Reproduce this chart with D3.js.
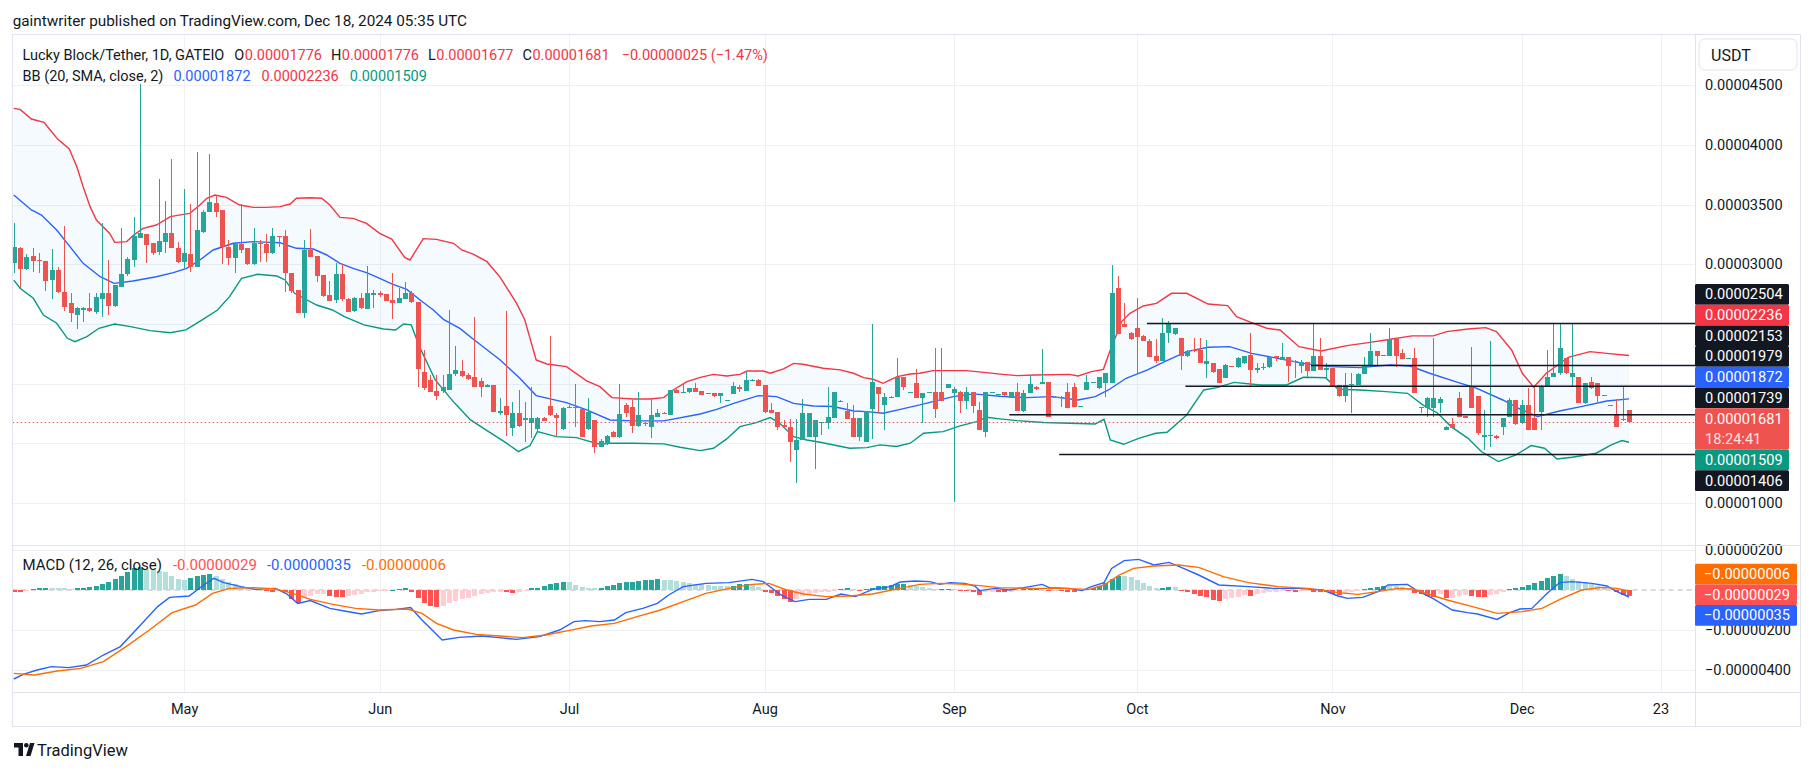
<!DOCTYPE html>
<html><head><meta charset="utf-8">
<script src="https://cdn.jsdelivr.net/npm/d3@7"></script>
<style>
html,body{margin:0;padding:0;background:#fff;}
svg{display:block;font-family:Roboto,"Liberation Sans",sans-serif;}
</style></head><body>
<svg id="c" width="1814" height="771"></svg>
<script>
// ---------------- DATA (prices in units of 1e-8 USDT, bar index 0 = Apr 4 2024, daily) ----------------
const O = [
3008,3134,2958,3069,3036,3027,2866,2952,2768,2673,2575,2627,2634,2603,2712,2757,2653,2813,2919,3036,
3223,3254,3176,3106,3190,3259,3134,3022,3086,2980,3273,3438,3511,3455,3142,3055,3170,3139,2999,3178,
3173,3092,3240,3237,2930,2785,2595,3120,3069,2910,2743,2701,2919,2709,2609,2715,2625,2754,2757,2751,
2701,2673,2712,2757,2681,2095,2031,1942,1942,1947,2078,2109,2073,2059,2023,1975,1989,1763,1813,1632,
1757,1696,1674,1618,1710,1813,1738,1618,1807,1807,1791,1618,1696,1473,1495,1598,1551,1819,1802,1648,
1668,1640,1724,1757,1740,1947,1928,1928,1967,1939,1917,1919,1897,1858,1914,1975,1942,2031,2031,1992,
1780,1763,1654,1640,1445,1528,1556,1556,1676,1674,1715,1855,1771,1710,1556,1514,1788,1972,1821,1889,
1886,2059,1925,2003,1883,1925,1928,1928,1967,1925,1933,1858,1931,1780,1598,1925,1908,1928,1883,1928,
1771,1919,1975,2009,2011,1889,1889,1928,1975,1811,1947,2009,1967,2009,2009,2804,2500,2422,2464,2400,
2360,2232,2190,2422,2416,2380,2232,2284,2282,2162,2170,2120,2050,2150,2137,2170,2238,2124,2135,2143,
2228,2198,2226,2188,2151,2182,2109,2232,2124,2134,1989,1900,1995,1989,2078,2157,2274,2236,2232,2372,
2260,2210,2212,1804,1794,1794,1835,1612,1662,1883,1726,1975,1900,1564,1568,1565,1640,1724,1863,1668,
1822,1710,1766,1970,2053,2087,2212,2053,2059,1835,2011,2003,1902,1820,1746,1700,1776];
const H = [
3343,3148,3086,3134,3092,3030,3128,2974,3324,2757,2645,2645,2757,2757,3343,3036,2827,3307,3064,3399,
4510,3254,3181,3714,3530,3882,3190,3631,3505,3943,3455,3924,3580,3455,3203,3190,3502,3139,3304,3203,
3251,3304,3240,3287,2930,2785,3203,3296,3069,2910,2860,3008,3000,2715,2729,2757,2986,2785,2779,2751,
2930,2799,2855,2776,2681,2282,2073,2073,2073,2617,2316,2198,2087,2561,2045,1994,1989,1877,2609,1850,
1947,1850,1975,1724,1724,2399,1757,1807,1821,1995,1791,1877,1696,1534,1570,1605,1995,1835,1863,1928,
1682,1883,1785,1760,1947,1953,2003,1967,2003,1939,1925,1925,1925,1863,2011,1989,2106,2037,2039,1992,
1835,1763,1696,1702,1702,1869,1752,1696,1682,1975,1933,1863,1835,1822,1710,1768,2500,1972,1919,1894,
2218,2059,1931,2120,1925,1931,2296,2296,1995,1975,1939,1970,1931,1850,1928,1933,1915,1930,1933,2003,
1947,2070,1978,2291,2011,1894,1894,2003,2003,1816,2073,2015,2053,2092,2994,2902,2673,2430,2715,2405,
2372,2372,2547,2528,2470,2380,2280,2380,2380,2366,2170,2120,2162,2152,2226,2235,2427,2170,2176,2232,
2232,2338,2226,2198,2198,2182,2506,2380,2170,2134,1989,2087,2087,2087,2221,2422,2274,2242,2464,2380,
2291,2216,2296,1808,1891,2380,1891,1645,1710,1933,1730,2310,1900,1780,2360,1568,1716,1877,1863,1863,
1967,1975,1989,2282,2506,2506,2212,2506,2059,2003,2059,2003,1908,1822,1869,1970,1776];
const L = [
2930,2799,2952,2938,2930,2779,2712,2762,2612,2519,2455,2519,2603,2581,2561,2575,2645,2813,2905,2974,
3217,3014,3078,3078,3092,3134,3014,2966,2933,2974,3265,3438,3399,3002,2994,2930,3092,2994,2994,3022,
3022,3086,3148,2771,2762,2595,2553,3064,2855,2723,2695,2679,2695,2603,2603,2625,2623,2631,2729,2695,
2542,2673,2709,2679,1975,1947,1933,1863,1919,1947,2064,2059,2031,1975,1891,1969,1760,1738,1565,1565,
1640,1509,1542,1598,1688,1729,1562,1612,1793,1640,1551,1612,1417,1467,1490,1551,1542,1724,1584,1640,
1646,1548,1724,1746,1740,1919,1919,1919,1933,1905,1910,1891,1841,1855,1914,1933,1942,2028,1981,1757,
1752,1612,1626,1347,1171,1528,1551,1286,1570,1618,1715,1852,1704,1556,1523,1514,1534,1752,1612,1886,
1886,1947,1922,1883,1668,1922,1715,1858,1967,1012,1752,1785,1752,1612,1551,1920,1905,1900,1877,1771,
1766,1919,1950,2003,1724,1886,1808,1799,1808,1808,1947,2005,1953,1891,2009,2416,2478,2366,2087,2355,
2226,2170,2190,2338,2410,2115,2226,2268,2176,2045,2092,2003,2045,2144,2129,2168,1970,2092,2115,2134,
2190,2198,2017,2050,2092,2053,2109,2115,2045,1970,1891,1849,1757,1989,2078,2151,2157,2234,2232,2137,
2210,2208,1919,1752,1718,1724,1752,1608,1632,1724,1718,1794,1570,1445,1473,1540,1570,1724,1654,1660,
1612,1612,1612,1970,2053,2073,2081,1981,1835,1830,1953,1849,1900,1814,1634,1690,1677];
const C = [
3148,2958,3058,3030,3033,2863,2952,2765,2645,2589,2631,2631,2612,2723,2757,2653,2827,2919,3044,3237,
3259,3164,3092,3192,3259,3134,3022,3092,2980,3284,3438,3522,3441,3142,3055,3170,3120,3002,3178,3173,
3092,3237,3234,2924,2779,2595,3120,3064,2905,2737,2695,2919,2709,2603,2715,2631,2757,2757,2752,2695,
2673,2715,2757,2681,2120,1967,1933,1900,1975,2078,2115,2064,2042,1975,1969,1989,1766,1768,1738,1757,
1646,1715,1710,1710,1688,1738,1715,1793,1802,1793,1556,1766,1473,1520,1562,1556,1743,1757,1648,1738,
1660,1738,1757,1752,1947,1919,1931,1961,1933,1908,1920,1897,1925,1861,1981,1958,2031,2034,1983,1766,
1757,1640,1640,1514,1528,1752,1752,1696,1679,1724,1933,1858,1704,1556,1710,1768,2011,1914,1889,1891,
2059,1970,1928,1883,1925,1928,1785,1858,1995,1953,1858,1931,1813,1612,1928,1928,1911,1905,1928,1771,
1919,1995,1953,2011,1724,1891,1892,1799,1808,1814,2011,2012,2053,2087,2757,2416,2478,2372,2394,2360,
2226,2190,2422,2506,2467,2232,2274,2280,2176,2190,2098,2003,2154,2146,2212,2232,2115,2127,2138,2226,
2224,2226,2151,2185,2179,2109,2232,2115,2127,1981,1900,1989,1998,2081,2157,2274,2232,2239,2372,2232,
2210,2213,1919,1800,1883,1883,1869,1640,1632,1724,1722,1794,1584,1567,1571,1542,1710,1863,1662,1822,
1612,1612,1975,2059,2087,2302,2087,2090,1835,2003,1961,1897,1905,1816,1634,1706,1681];

// Bollinger bands (20, SMA, 2): [bar index, value]
const bbUpper = [[0,4306],[1,4298],[2.8,4217],[4.8,4189],[6,4111],[7,4047],[8.8,3966],[10,3818],[11,3650],[12.1,3483],[13.1,3371],[15.2,3259],[16,3184],[17.9,3190],[19,3245],[20.5,3301],[22.6,3329],[24.8,3399],[26.9,3418],[27.9,3427],[29.5,3497],[30.6,3553],[31.9,3580],[33.7,3561],[35.8,3497],[38,3477],[40.1,3477],[42.2,3483],[43.8,3505],[44.8,3553],[46.9,3558],[48.8,3553],[50.1,3497],[51.7,3393],[53.8,3385],[55.9,3343],[58,3259],[59.9,3212],[62,3055],[62.8,3036],[64.9,3215],[67,3209],[69.7,3176],[71,3120],[72.8,3086],[75,3022],[77.1,2891],[79.7,2673],[81,2533],[82.8,2198],[84.5,2165],[87.6,2143],[90.8,2023],[92.9,1975],[94.8,1883],[98.2,1872],[100.8,1872],[103,1883],[104.5,1947],[106.7,2017],[108.8,2053],[110.9,2078],[113,2064],[115.1,2078],[116.2,2106],[118.8,2106],[119.9,2087],[122,2123],[123.6,2170],[125.1,2162],[128.3,2129],[131,2115],[133.1,2087],[134.7,2050],[136.2,2037],[137.8,2003],[138.9,2031],[140,2059],[142.1,2081],[143.6,2087],[145.7,2109],[148.9,2109],[151,2109],[154.2,2092],[156.3,2080],[159,2067],[161.8,2073],[167.3,2078],[168.7,2064],[170.8,2101],[172.7,2120],[173.8,2282],[175.6,2520],[176.9,2589],[179,2651],[181.1,2673],[183.5,2757],[185.9,2757],[189.3,2667],[192.4,2654],[193.8,2561],[196.2,2511],[198.6,2464],[200.7,2450],[203.7,2310],[207.2,2274],[211.3,2319],[214.7,2344],[218.2,2372],[221.6,2400],[225,2400],[227.1,2436],[230.5,2458],[233.3,2469],[235,2436],[237.4,2282],[239.1,2087],[240.9,1970],[242.9,2087],[246.4,2221],[249.8,2268],[252.5,2254],[256,2236]];
const bbBasis = [[0,3580],[2.8,3455],[4.4,3413],[6.8,3287],[8.9,3148],[11,3008],[13.7,2896],[15.9,2840],[18.9,2860],[22.6,2896],[25.3,2930],[27.4,2966],[29.5,3036],[31.6,3120],[34.8,3176],[38,3190],[40.6,3184],[42.2,3181],[43.2,3162],[44.8,3134],[47.5,3128],[49.6,3078],[51.7,3008],[53.8,2966],[55.9,2930],[58,2882],[60.1,2832],[62.3,2790],[64.4,2701],[66.5,2617],[68.1,2539],[70.7,2463],[73,2366],[77.1,2198],[80.2,2045],[82.8,1900],[87.6,1841],[90.8,1780],[94.5,1696],[98.2,1688],[103,1688],[108.8,1746],[111.4,1785],[114.1,1835],[118,1900],[120.9,1891],[123.6,1835],[126.7,1813],[129.9,1808],[133.1,1771],[135.2,1766],[137.8,1752],[140.5,1785],[143.6,1822],[146.3,1858],[148.9,1891],[152.1,1914],[156.3,1895],[160.4,1883],[164.6,1891],[168.7,1863],[171.4,1891],[173.5,1947],[176.3,2045],[179.7,2115],[182.4,2185],[185.9,2268],[189.3,2305],[192.7,2310],[196.2,2254],[200.3,2212],[204.4,2170],[208.6,2143],[213.4,2134],[218.2,2157],[221.3,2148],[224.4,2087],[228.5,2017],[231.9,1961],[236,1863],[238.8,1785],[241.5,1724],[245,1771],[248.4,1808],[252.5,1855],[256,1872]];
const bbLower = [[0,2868],[1,2799],[3.1,2715],[4.7,2575],[6.8,2506],[8.5,2380],[9.7,2352],[11.6,2394],[13.5,2464],[16,2500],[18.5,2478],[21.6,2444],[24.8,2427],[27.3,2450],[29.8,2533],[32.3,2617],[34.2,2729],[36.1,2882],[38.6,2916],[41.7,2902],[43,2869],[44.5,2757],[48,2659],[50.5,2617],[52.4,2561],[55.5,2492],[58.6,2458],[60.5,2450],[61.8,2500],[63,2492],[64.3,2310],[66.8,2031],[69.9,1835],[72.4,1696],[75.5,1590],[78.1,1501],[80,1431],[81.8,1480],[83,1598],[86,1556],[89.2,1548],[90.8,1523],[92.9,1492],[94.5,1501],[98.2,1501],[103,1495],[105.6,1467],[108.8,1439],[110.9,1459],[113,1537],[115.1,1640],[117.7,1674],[119.9,1716],[121.4,1668],[123.6,1556],[125.7,1528],[127.8,1509],[132.5,1459],[135.2,1464],[137.3,1487],[139.9,1473],[142.1,1501],[144.2,1584],[147.3,1598],[150,1646],[152.6,1682],[154.2,1718],[156.3,1705],[159,1690],[163.2,1674],[167.3,1668],[171.4,1662],[172.8,1701],[173.8,1528],[175.9,1492],[178.3,1542],[181,1584],[182.8,1593],[185.9,1738],[188.6,1947],[190.7,1967],[193.4,2011],[197.6,1989],[201.7,1989],[204.4,2053],[207.9,2050],[209.9,1953],[213.4,1947],[217.5,1933],[220.9,1919],[223.3,1822],[225.7,1752],[227.8,1640],[230.5,1542],[232.6,1431],[235.3,1347],[238.1,1403],[240.5,1481],[242.6,1459],[244.6,1369],[247,1383],[250.8,1417],[253.2,1487],[254.9,1523],[256,1509]];

// MACD (12, 26, close): [bar index, value]
const macdLine = [[0,-445],[1.5,-422],[3.7,-400],[6,-383],[8.7,-388],[11.5,-375],[14.2,-325],[16.9,-283],[20.1,-175],[22.8,-83],[24.7,-37],[27.8,-30],[30.1,25],[31.7,58],[33.3,37],[36,17],[38.3,3],[41.5,8],[43.3,-20],[45,-67],[47,-53],[50.1,-92],[52.4,-105],[55.1,-120],[57.9,-103],[60.6,-97],[62.9,-88],[64.7,-150],[67.9,-250],[70.6,-237],[74.2,-230],[76.9,-238],[79.7,-247],[83.3,-233],[86.5,-200],[88.8,-158],[90.6,-153],[92.9,-158],[95.2,-150],[97,-113],[99.7,-92],[102,-67],[103.8,-25],[106.1,17],[109.7,33],[113.4,37],[117,53],[118.8,42],[121.6,-25],[123.8,-58],[126.1,-47],[128.8,-47],[131.1,-20],[133.4,-33],[136.1,3],[138.9,17],[140.5,40],[142.8,45],[145.2,42],[146.8,28],[148.4,37],[150.7,33],[152.3,20],[153.1,-3],[155.5,8],[157.8,0],[161,17],[163,28],[164.1,12],[167.3,8],[169.3,-3],[170.8,17],[172.8,37],[174,108],[176,147],[178.3,153],[180.7,125],[183.1,138],[185.4,108],[187.8,75],[191,25],[195.7,17],[199.6,8],[203.6,8],[207.5,0],[209.9,-30],[211.4,-42],[213.8,-37],[216.2,-8],[217.8,25],[220.9,28],[222.5,-5],[224.9,-42],[228,-100],[230.4,-113],[232,-120],[235.1,-147],[237.1,-113],[238.7,-95],[240.6,-92],[243,-17],[245,37],[247,42],[250.1,33],[252.5,20],[254.1,-8],[256,-35]];
const macdSignal = [[0,-417],[3.3,-425],[6.9,-405],[10.6,-392],[14.2,-358],[17.8,-283],[21.5,-200],[25.1,-113],[28.8,-75],[31.5,-17],[34.2,8],[37.9,12],[41.5,5],[44.2,-17],[47,-47],[50.6,-72],[54.2,-92],[57.9,-100],[62.4,-95],[64.7,-117],[67,-167],[69.7,-200],[73.3,-222],[77,-230],[80.6,-238],[84.3,-225],[87.9,-203],[91.5,-180],[95.2,-167],[98.8,-133],[102.5,-100],[106.1,-58],[109.7,-17],[113.4,8],[117,28],[119.7,33],[122.5,0],[125.2,-20],[128.8,-33],[132.5,-30],[136.1,-20],[140.5,8],[143.6,28],[146.8,33],[150,30],[153.1,22],[156.2,12],[161,8],[165.7,8],[170.4,3],[172.8,25],[175.2,75],[177.5,108],[180.7,120],[184.6,125],[187.8,113],[191.7,67],[195.7,37],[200.4,17],[205.1,8],[209.9,-13],[213,-22],[216.2,-8],[219.3,8],[221.7,5],[224.1,-20],[227.2,-50],[231.2,-83],[235.1,-117],[239.1,-108],[242.2,-92],[245.4,-42],[248.5,0],[251.7,13],[254.1,8],[256,-6]];
const macdHist = [
-10,-12,-6,5,8,12,10,9,8,7,8,10,16,22,30,40,55,70,90,108,
115,105,100,95,88,70,55,50,60,68,75,78,70,55,40,28,18,12,6,2,
-4,-8,-6,-12,-45,-65,-40,-30,-22,-20,-28,-35,-37,-30,-25,-18,-12,-8,-5,-2,
2,6,8,-10,-40,-65,-80,-85,-78,-65,-55,-45,-38,-30,-22,-15,-12,-10,-12,-14,
-10,-5,8,12,18,28,35,42,40,25,15,12,10,12,20,25,35,40,42,45,
48,52,55,52,48,45,40,35,32,28,24,22,20,18,22,28,32,25,15,-8,
-15,-28,-45,-58,-45,-30,-22,-15,-12,-8,-5,6,8,4,-3,5,12,18,22,25,
28,30,25,20,15,8,3,4,6,5,-3,-5,-8,-25,-12,-8,-8,-10,-8,-3,
4,8,12,10,-3,-2,-4,-8,-10,-6,3,8,18,35,55,72,72,65,50,35,
18,10,12,17,13,-3,-10,-20,-28,-35,-50,-53,-47,-38,-33,-25,-28,-20,-15,-10,
-8,-5,-6,-8,-5,-3,-8,-10,-12,-20,-25,-15,-8,-5,3,10,17,22,22,20,
17,10,-15,-20,-30,-33,-20,-42,-40,-32,-25,-30,-37,-37,-25,-18,-12,5,10,17,
23,33,45,60,72,80,68,55,45,38,30,22,12,3,-10,-25,-29];

// Horizontal levels drawn on the chart (value, bar index where the ray starts)
const levelValues = [2504, 2153, 1979, 1739, 1406];
const levelStart  = [179.6, 205.6, 185.7, 157.8, 165.7];

// Time axis ticks
const tickLabels = ["May","Jun","Jul","Aug","Sep","Oct","Nov","Dec","23"];
const tickIndex  = [27, 58, 88, 119, 149, 178, 209, 239, 261];

// Price axis: grid values and the labels left visible (others sit under the price badges)
const priceGrid   = [1000,1500,2000,2500,3000,3500,4000,4500];
const priceLabels = [1000,3000,3500,4000,4500];
const macdGrid    = [200, -200, -400];
const macdLabels  = [200, -200, -400];

// Legend values
const lastBB = [1872, 2236, 1509];
const lastMacd = [-29, -35, -6];  // histogram, macd, signal
const countdown = "18:24:41";

// ---------------- LAYOUT ----------------
const svg = d3.select("#c");
const Lx = 12.7, Rx = 1695, FRx = 1800;
const mainTop = 34, mainBot = 545, macdBot = 692, axisBot = 726;
const TXT = "#131722", GRID = "#eef0f4", BORDER = "#e0e3eb";
const UP = "#26a69a", DN = "#ef5350";
const u = v => v * 1e-8;
const fmt = v => (v < 0 ? "\u2212" : "") + Math.abs(u(v)).toFixed(8);

const x = d3.scaleLinear().domain([58, 239]).range([379.7, 1521.7]);
const y = d3.scaleLinear().domain([1000, 3000]).range([503.0, 264.3]);
const ym = d3.scaleLinear().domain([-400, 200]).range([670, 550]);

svg.append("rect").attr("width",1814).attr("height",771).attr("fill","#fff");

const defs = svg.append("defs");
defs.append("clipPath").attr("id","cpMain").append("rect").attr("x",Lx).attr("y",mainTop).attr("width",Rx-Lx).attr("height",mainBot-mainTop);
defs.append("clipPath").attr("id","cpMacd").append("rect").attr("x",Lx).attr("y",mainBot).attr("width",Rx-Lx).attr("height",macdBot-mainBot);

// grid
const grid = svg.append("g");
priceGrid.forEach(v => grid.append("line").attr("x1",Lx).attr("x2",Rx).attr("y1",Math.round(y(v))+0.5).attr("y2",Math.round(y(v))+0.5).attr("stroke",GRID));
macdGrid.forEach(v => grid.append("line").attr("x1",Lx).attr("x2",Rx).attr("y1",Math.round(ym(v))+0.5).attr("y2",Math.round(ym(v))+0.5).attr("stroke",GRID));
tickIndex.forEach(i => grid.append("line").attr("x1",Math.round(x(i))+0.5).attr("x2",Math.round(x(i))+0.5).attr("y1",mainTop).attr("y2",macdBot).attr("stroke",GRID));

// ---------------- MAIN PANE ----------------
const main = svg.append("g").attr("clip-path","url(#cpMain)");
const pt = d => [x(d[0]), y(d[1])];
const line = d3.line();
main.append("path").attr("d", line(bbUpper.map(pt).concat(bbLower.slice().reverse().map(pt))) + "Z")
  .attr("fill","rgba(33,150,243,0.05)");
main.append("path").attr("d", line(bbUpper.map(pt))).attr("fill","none").attr("stroke","#f23645").attr("stroke-width",1.4);
main.append("path").attr("d", line(bbBasis.map(pt))).attr("fill","none").attr("stroke","#2962ff").attr("stroke-width",1.4);
main.append("path").attr("d", line(bbLower.map(pt))).attr("fill","none").attr("stroke","#089981").attr("stroke-width",1.4);

const candles = main.append("g").attr("shape-rendering","crispEdges");
d3.range(O.length).forEach(i => {
  const xc = Math.round(x(i));
  const col = C[i] >= O[i] ? UP : DN;
  const yh = y(H[i]), yl = y(L[i]);
  candles.append("rect").attr("x",xc).attr("y",yh).attr("width",1).attr("height",Math.max(1,yl-yh)).attr("fill",col);
  const yt = y(Math.max(O[i],C[i])), yb = y(Math.min(O[i],C[i]));
  candles.append("rect").attr("x",xc-2).attr("y",yt).attr("width",5).attr("height",Math.max(1.2,yb-yt)).attr("fill",col);
});

// level rays
levelValues.forEach((v,k) => {
  main.append("line").attr("x1",x(levelStart[k])).attr("x2",Rx).attr("y1",y(v)).attr("y2",y(v))
    .attr("stroke","#131722").attr("stroke-width",1.5);
});
// last price dotted line
const lastC = C[C.length-1];
main.append("line").attr("x1",Lx).attr("x2",Rx).attr("y1",Math.round(y(lastC))+0.5).attr("y2",Math.round(y(lastC))+0.5)
  .attr("stroke",DN).attr("stroke-width",1).attr("stroke-dasharray","1.5,2.5");

// ---------------- MACD PANE ----------------
const mp = svg.append("g").attr("clip-path","url(#cpMacd)");
mp.append("line").attr("x1",Lx).attr("x2",Rx).attr("y1",ym(0)).attr("y2",ym(0)).attr("stroke","#b2b5be").attr("stroke-dasharray","5,4");
const hg = mp.append("g").attr("shape-rendering","crispEdges");
macdHist.forEach((v,i) => {
  const prev = i > 0 ? macdHist[i-1] : v;
  let col;
  if (v >= 0) col = prev < v ? "#26a69a" : "#b2dfdb";
  else col = prev < v ? "#ffcdd2" : "#ff5252";
  const xc = Math.round(x(i));
  const y0 = ym(0), y1 = ym(v);
  hg.append("rect").attr("x",xc-2).attr("y",Math.min(y0,y1)).attr("width",5).attr("height",Math.max(1,Math.abs(y1-y0))).attr("fill",col);
});
const ptm = d => [x(d[0]), ym(d[1])];
mp.append("path").attr("d", line(macdLine.map(ptm))).attr("fill","none").attr("stroke","#2962ff").attr("stroke-width",1.4);
mp.append("path").attr("d", line(macdSignal.map(ptm))).attr("fill","none").attr("stroke","#ff6d00").attr("stroke-width",1.4);

// ---------------- AXES ----------------
const AXF = 14.6;
const pa = svg.append("g").attr("transform",`translate(${Rx},0)`)
  .call(d3.axisRight(y).tickValues(priceLabels).tickFormat(fmt).tickSize(0).tickPadding(10));
pa.select(".domain").remove();
pa.selectAll("text").attr("font-size",AXF).attr("font-family","Roboto").attr("fill",TXT);

const ma = svg.append("g").attr("transform",`translate(${Rx},0)`)
  .call(d3.axisRight(ym).tickValues(macdLabels).tickFormat(fmt).tickSize(0).tickPadding(10));
ma.select(".domain").remove();
ma.selectAll("text").attr("font-size",AXF).attr("font-family","Roboto").attr("fill",TXT);

const ta = svg.append("g").attr("transform",`translate(0,${macdBot})`)
  .call(d3.axisBottom(x).tickValues(tickIndex).tickFormat((d,i)=>tickLabels[i]).tickSize(0).tickPadding(12));
ta.select(".domain").remove();
ta.selectAll("text").attr("font-size",14.5).attr("font-family","Roboto").attr("fill",TXT);

// frame
const fr = svg.append("g").attr("stroke",BORDER).attr("fill","none").attr("shape-rendering","crispEdges");
fr.append("rect").attr("x",Lx).attr("y",mainTop).attr("width",FRx-Lx).attr("height",axisBot-mainTop);
fr.append("line").attr("x1",Lx).attr("x2",FRx).attr("y1",mainBot).attr("y2",mainBot);
fr.append("line").attr("x1",Lx).attr("x2",FRx).attr("y1",macdBot).attr("y2",macdBot);
fr.append("line").attr("x1",Rx).attr("x2",Rx).attr("y1",mainTop).attr("y2",axisBot);

// USDT box
svg.append("rect").attr("x",1699).attr("y",39).attr("width",98).attr("height",31).attr("rx",6).attr("fill","#fff").attr("stroke",BORDER);
svg.append("text").attr("x",1711).attr("y",61).attr("font-size",16).attr("fill",TXT).text("USDT");

// ---------------- PRICE BADGES (stacked) ----------------
const badges = [
  {v:levelValues[0], f:"#131722"},
  {v:lastBB[1], f:"#f23645"},
  {v:levelValues[1], f:"#131722"},
  {v:levelValues[2], f:"#131722"},
  {v:lastBB[0], f:"#2962ff"},
  {v:levelValues[3], f:"#131722"},
  {v:lastC, f:"#ef5350", sub:countdown},
  {v:lastBB[2], f:"#089981"},
  {v:levelValues[4], f:"#131722"}
];
let btop = 284;
const bh = 20.7;
const bg = svg.append("g");
badges.forEach(b => {
  const h = b.sub ? bh*2 : bh;
  bg.append("rect").attr("x",Rx).attr("y",btop).attr("width",94).attr("height",h).attr("fill",b.f).attr("rx",1.5);
  bg.append("text").attr("x",Rx+10).attr("y",btop+bh/2+5).attr("font-size",AXF).attr("fill","#fff").text(fmt(b.v));
  if (b.sub) bg.append("text").attr("x",Rx+10).attr("y",btop+bh*1.5+5).attr("font-size",AXF).attr("fill","rgba(255,255,255,0.85)").text(b.sub);
  btop += h;
});
const mbadges = [
  {v:lastMacd[2], f:"#ff6d00"},
  {v:lastMacd[0], f:"#ff5252"},
  {v:lastMacd[1], f:"#2962ff"}
];
let mtop = 563.7;
mbadges.forEach(b => {
  bg.append("rect").attr("x",Rx).attr("y",mtop).attr("width",102).attr("height",bh).attr("fill",b.f).attr("rx",1.5);
  bg.append("text").attr("x",Rx+9).attr("y",mtop+bh/2+5).attr("font-size",AXF).attr("fill","#fff").text(fmt(b.v));
  mtop += bh;
});

// ---------------- TEXTS ----------------
function runs(xs, yb, items, size) {
  let cx = xs;
  items.forEach(it => {
    cx += it.g || 0;
    const t = svg.append("text").attr("x",cx).attr("y",yb).attr("font-size",size).attr("fill",it.c).text(it.t);
    cx += t.node().getComputedTextLength();
  });
}
svg.append("text").attr("x",12.7).attr("y",25.5).attr("font-size",15.3).attr("fill",TXT)
  .text("gaintwriter published on TradingView.com, Dec 18, 2024 05:35 UTC");

const n = C.length - 1;
const chg = C[n] - C[n-1];
const pct = (chg / C[n-1] * 100);
const RED = "#f23645";
runs(22.5, 59.5, [
  {t:"Lucky Block/Tether, 1D, GATEIO", c:TXT},
  {t:"O", c:TXT, g:10}, {t:fmt(O[n]), c:RED, g:0.5},
  {t:"H", c:TXT, g:9}, {t:fmt(H[n]), c:RED, g:0.5},
  {t:"L", c:TXT, g:9}, {t:fmt(L[n]), c:RED, g:0.5},
  {t:"C", c:TXT, g:9}, {t:fmt(C[n]), c:RED, g:0.5},
  {t:fmt(chg) + " (" + (chg<0?"\u2212":"") + Math.abs(pct).toFixed(2) + "%)", c:RED, g:12}
], 14.5);
runs(22.5, 81, [
  {t:"BB (20, SMA, close, 2)", c:TXT},
  {t:fmt(lastBB[0]), c:"#2962ff", g:10},
  {t:fmt(lastBB[1]), c:RED, g:11},
  {t:fmt(lastBB[2]), c:"#089981", g:11}
], 14.5);
const fm = v => (v<0?"-":"") + Math.abs(u(v)).toFixed(8);
runs(22.5, 570, [
  {t:"MACD (12, 26, close)", c:TXT},
  {t:fm(lastMacd[0]), c:"#ff5252", g:11},
  {t:fm(lastMacd[1]), c:"#2962ff", g:10},
  {t:fm(lastMacd[2]), c:"#ff6d00", g:11}
], 15);

// TradingView logo
const lg = svg.append("g").attr("fill",TXT);
lg.append("path").attr("d","M14,743 H23 V756 H18.5 V747.5 H14 Z");
lg.append("circle").attr("cx",26.3).attr("cy",745.3).attr("r",2.3);
lg.append("path").attr("d","M30,743 H34.5 L30.5,756 H26 Z");
svg.append("text").attr("x",37).attr("y",755.5).attr("font-size",16.5).attr("fill",TXT).text("TradingView");
</script></body></html>
